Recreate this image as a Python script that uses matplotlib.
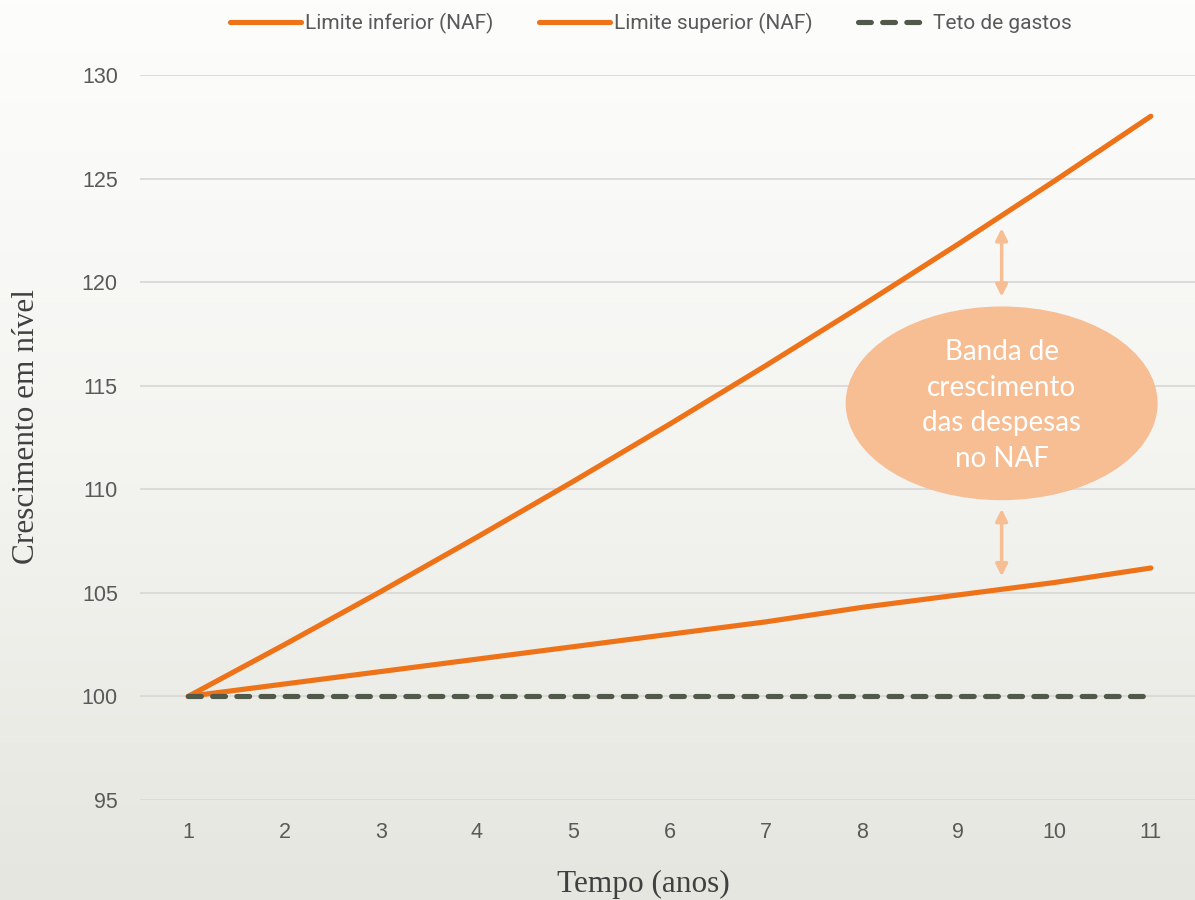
import numpy as np
import matplotlib
matplotlib.use("Agg")
import matplotlib.pyplot as plt
from matplotlib.patches import Ellipse
from matplotlib.colors import LinearSegmentedColormap

# Series values
anos = [1, 2, 3, 4, 5, 6, 7, 8, 9, 10, 11]
limite_inferior = [100.0, 100.6, 101.2, 101.8, 102.4, 103.0, 103.6, 104.3, 104.9, 105.5, 106.2]
limite_superior = [100.0, 102.5, 105.06, 107.69, 110.38, 113.14, 115.97, 118.87, 121.84, 124.89, 128.01]
teto_gastos = [100.0] * 11
y_ticks = [95, 100, 105, 110, 115, 120, 125, 130]

serie_nomes = ["Limite inferior (NAF)", "Limite superior (NAF)", "Teto de gastos"]
banda_texto = "Banda de\ncrescimento\ndas despesas\nno NAF"

LARANJA = "#EE7218"
CINZA_ESCURO = "#515A4A"
PESSEGO = "#F7BD93"
TEXTO = "#595959"

W, H = 1195, 900
fig = plt.figure(figsize=(W / 100, H / 100), dpi=100)

# Background gradient (light at top, warm grey at bottom)
bg = fig.add_axes([0, 0, 1, 1], zorder=-10)
grad = np.linspace(0, 1, 256).reshape(-1, 1)
cmap = LinearSegmentedColormap.from_list("bg", ["#FDFDFC", "#F4F4F1", "#E6E6E0"])
bg.imshow(grad, aspect="auto", cmap=cmap, extent=[0, 1, 0, 1], origin="upper")
bg.axis("off")

ax = fig.add_axes([140 / W, 1 - 800 / H, (1199 - 140) / W, (800 - 75) / H])
ax.patch.set_alpha(0)

ax.plot(anos, limite_inferior, color=LARANJA, lw=3.7, solid_capstyle="round",
        label=serie_nomes[0], zorder=4)
ax.plot(anos, limite_superior, color=LARANJA, lw=3.7, solid_capstyle="round",
        label=serie_nomes[1], zorder=4)
ax.plot(anos, teto_gastos, color=CINZA_ESCURO, lw=3.7, dash_capstyle="round",
        dashes=(2.5, 2.2), label=serie_nomes[2], zorder=5)

ax.set_xlim(0.5, 11.5)
ax.set_ylim(95, 130)
ax.set_xticks(anos)
ax.set_yticks(y_ticks)
ax.grid(axis="y", color="#D9D9D9", lw=1.3)
ax.set_axisbelow(True)
for s in ax.spines.values():
    s.set_visible(False)
ax.tick_params(length=0, colors=TEXTO, labelsize=15.5)
ax.tick_params(axis="x", pad=16)
ax.tick_params(axis="y", pad=16)
for lab in ax.get_xticklabels() + ax.get_yticklabels():
    lab.set_fontfamily("Liberation Sans")

# Band annotation
ell = Ellipse((9.45, 114.15), 3.24, 9.35, facecolor=PESSEGO, edgecolor="none", zorder=6)
ax.add_patch(ell)
ax.text(9.45, 114.05, banda_texto, ha="center", va="center", color="white",
        fontsize=20, family="Lato", linespacing=1.45, zorder=7)
arrow_kw = dict(arrowstyle="<|-|>,head_length=0.7,head_width=0.35", color=PESSEGO, lw=2.5,
                shrinkA=0, shrinkB=0)
ax.annotate("", xy=(9.45, 122.6), xytext=(9.45, 119.3), arrowprops=arrow_kw, zorder=6)
ax.annotate("", xy=(9.45, 109.05), xytext=(9.45, 105.8), arrowprops=arrow_kw, zorder=6)

# Legend
leg = fig.legend(loc="center", bbox_to_anchor=(651 / W, 1 - 23 / H), ncol=3, frameon=False,
                 prop={"family": ["Liberation Sans Narrow", "Roboto"], "size": 15},
                 handlelength=3.4, handletextpad=0.2, columnspacing=2.2)
for t in leg.get_texts():
    t.set_color(TEXTO)

# Axis titles
fig.text(27 / W, 1 - 427 / H, "Crescimento em nível", rotation=90, ha="center", va="center",
         fontsize=22.5, family="Liberation Serif", color="#404040")
fig.text(643 / W, 1 - 884 / H, "Tempo (anos)", ha="center", va="center",
         fontsize=22.5, family="Liberation Serif", color="#404040")

fig.savefig("out.png", dpi=100)
